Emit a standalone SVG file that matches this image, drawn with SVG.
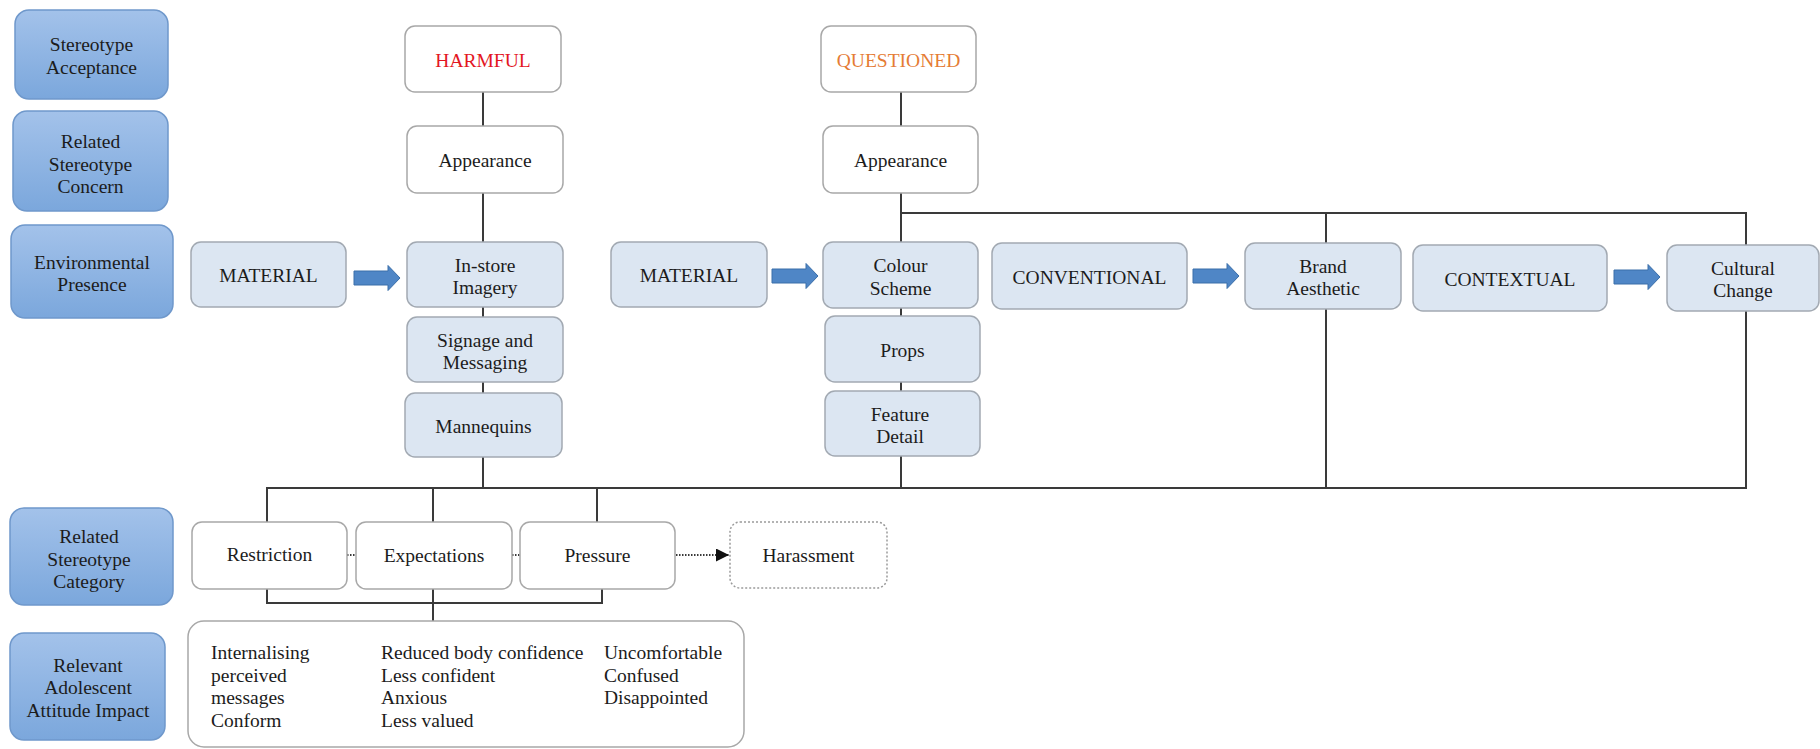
<svg xmlns="http://www.w3.org/2000/svg" xmlns:xlink="http://www.w3.org/1999/xlink" width="1820" height="749" viewBox="0 0 1820 749">
<style>
text{font-family:"Liberation Serif","Times New Roman",serif;font-size:19.5px;fill:#1c1c1c;text-anchor:middle}
.lbl rect{fill:url(#lg);stroke:#6f98cb;stroke-width:1.5}
.lb rect{fill:#dce6f2;stroke:#a2a9b2;stroke-width:1.5}
.wh rect{fill:#ffffff;stroke:#a8a8a8;stroke-width:1.5}
.con path{fill:none;stroke:#3a3a3a;stroke-width:2}
.dot{fill:none;stroke:#555;stroke-width:1.5;stroke-dasharray:1.5 1.5}
.blk{fill:#4f86c6;stroke:#3b6fa9;stroke-width:1}
.lt{text-anchor:start}
</style>
<defs>
<linearGradient id="lg" x1="0" y1="0" x2="0" y2="1">
<stop offset="0" stop-color="#a3c2ea"/>
<stop offset="1" stop-color="#7ba7dc"/>
</linearGradient>
<path id="blkarrow" d="M0,-7 H34 V-12.5 L46,0 L34,12.5 V7 H0 Z"/>
<marker id="tri" viewBox="0 0 10 10" refX="10" refY="5" markerWidth="13" markerHeight="13" markerUnits="userSpaceOnUse" orient="auto">
<path d="M0,0 L10,5 L0,10 Z" fill="#111"/>
</marker>
</defs>
<rect width="1820" height="749" fill="#ffffff"/>

<g id="connectors" class="con">
<path d="M483,92 V126 M483,193 V242 M483,307 V317 M483,382 V393 M483,457 V488"/>
<path d="M901,92 V126 M901,193 V242 M901,308 V316 M901,382 V391 M901,456 V488"/>
<path d="M901,213 H1746 V245 M1326,213 V243"/>
<path d="M267,522 V488 H1746 V311 M1326,309 V488 M433,488 V522 M597,488 V522"/>
<path d="M267,589 V603 H602 V589 M433,589 V621"/>
<path class="dot" d="M347,555 H356 M512,555 H520"/>
<path class="dot" d="M676,555 H729" marker-end="url(#tri)"/>
<use xlink:href="#blkarrow" href="#blkarrow" class="blk" x="354" y="278"/>
<use xlink:href="#blkarrow" href="#blkarrow" class="blk" x="772" y="276"/>
<use xlink:href="#blkarrow" href="#blkarrow" class="blk" x="1193" y="276"/>
<use xlink:href="#blkarrow" href="#blkarrow" class="blk" x="1614" y="277"/>
</g>

<g id="label-acceptance" class="lbl"><rect x="15" y="10" width="153" height="89" rx="14"/>
<text x="91.5"><tspan x="91.5" y="51">Stereotype</tspan><tspan x="91.5" y="73.5">Acceptance</tspan></text></g>
<g id="label-concern" class="lbl"><rect x="13" y="111" width="155" height="100" rx="14"/>
<text><tspan x="90.5" y="148">Related</tspan><tspan x="90.5" y="170.5">Stereotype</tspan><tspan x="90.5" y="193">Concern</tspan></text></g>
<g id="label-presence" class="lbl"><rect x="11" y="225" width="162" height="93" rx="14"/>
<text><tspan x="92" y="268.5">Environmental</tspan><tspan x="92" y="291">Presence</tspan></text></g>
<g id="label-category" class="lbl"><rect x="10" y="508" width="163" height="97" rx="14"/>
<text><tspan x="89" y="543">Related</tspan><tspan x="89" y="565.5">Stereotype</tspan><tspan x="89" y="588">Category</tspan></text></g>
<g id="label-impact" class="lbl"><rect x="10" y="633" width="155" height="107" rx="14"/>
<text><tspan x="88" y="671.5">Relevant</tspan><tspan x="88" y="694">Adolescent</tspan><tspan x="88" y="716.5">Attitude Impact</tspan></text></g>

<g id="harmful" class="wh"><rect x="405" y="26" width="156" height="66" rx="10"/><text x="483" y="66.5" style="fill:#e3161f">HARMFUL</text></g>
<g id="appearance-h" class="wh"><rect x="407" y="126" width="156" height="67" rx="10"/><text x="485" y="166.5">Appearance</text></g>
<g id="material-1" class="lb"><rect x="191" y="242" width="155" height="65" rx="10"/><text x="268.5" y="282">MATERIAL</text></g>
<g id="instore" class="lb"><rect x="407" y="242" width="156" height="65" rx="10"/><text><tspan x="485" y="271.5">In-store</tspan><tspan x="485" y="294">Imagery</tspan></text></g>
<g id="signage" class="lb"><rect x="407" y="317" width="156" height="65" rx="10"/><text><tspan x="485" y="346.5">Signage and</tspan><tspan x="485" y="369">Messaging</tspan></text></g>
<g id="mannequins" class="lb"><rect x="405" y="393" width="157" height="64" rx="10"/><text x="483.5" y="432.5">Mannequins</text></g>

<g id="questioned" class="wh"><rect x="821" y="26" width="155" height="66" rx="10"/><text x="898.5" y="66.5" style="fill:#e57c35">QUESTIONED</text></g>
<g id="appearance-q" class="wh"><rect x="823" y="126" width="155" height="67" rx="10"/><text x="900.5" y="166.5">Appearance</text></g>
<g id="material-2" class="lb"><rect x="611" y="242" width="156" height="65" rx="10"/><text x="689" y="282">MATERIAL</text></g>
<g id="colour" class="lb"><rect x="823" y="242" width="155" height="66" rx="10"/><text><tspan x="900.5" y="272">Colour</tspan><tspan x="900.5" y="294.5">Scheme</tspan></text></g>
<g id="props" class="lb"><rect x="825" y="316" width="155" height="66" rx="10"/><text x="902.5" y="356.5">Props</text></g>
<g id="feature" class="lb"><rect x="825" y="391" width="155" height="65" rx="10"/><text><tspan x="900" y="420.5">Feature</tspan><tspan x="900" y="443">Detail</tspan></text></g>
<g id="conventional" class="lb"><rect x="992" y="243" width="195" height="66" rx="10"/><text x="1089.5" y="283.5">CONVENTIONAL</text></g>
<g id="brand" class="lb"><rect x="1245" y="243" width="156" height="66" rx="10"/><text><tspan x="1323" y="272.5">Brand</tspan><tspan x="1323" y="295">Aesthetic</tspan></text></g>
<g id="contextual" class="lb"><rect x="1413" y="245" width="194" height="66" rx="10"/><text x="1510" y="285.5">CONTEXTUAL</text></g>
<g id="cultural" class="lb"><rect x="1667" y="245" width="152" height="66" rx="10"/><text><tspan x="1743" y="274.5">Cultural</tspan><tspan x="1743" y="297">Change</tspan></text></g>

<g id="restriction" class="wh"><rect x="192" y="522" width="155" height="67" rx="10"/><text x="269.5" y="561">Restriction</text></g>
<g id="expectations" class="wh"><rect x="356" y="522" width="156" height="67" rx="10"/><text x="434" y="562">Expectations</text></g>
<g id="pressure" class="wh"><rect x="520" y="522" width="155" height="67" rx="10"/><text x="597.5" y="562">Pressure</text></g>
<g id="harassment" class="wh"><rect x="730" y="522" width="157" height="66" rx="10" style="stroke:#9a9a9a;stroke-dasharray:2 2"/><text x="808.5" y="562">Harassment</text></g>

<g id="impact" class="wh"><rect x="188" y="621" width="556" height="126" rx="16"/>
<text class="lt"><tspan x="211" y="659">Internalising</tspan><tspan x="211" y="681.7">perceived</tspan><tspan x="211" y="704.3">messages</tspan><tspan x="211" y="727">Conform</tspan></text>
<text class="lt"><tspan x="381" y="659">Reduced body confidence</tspan><tspan x="381" y="681.7">Less confident</tspan><tspan x="381" y="704.3">Anxious</tspan><tspan x="381" y="727">Less valued</tspan></text>
<text class="lt"><tspan x="604" y="659">Uncomfortable</tspan><tspan x="604" y="681.7">Confused</tspan><tspan x="604" y="704.3">Disappointed</tspan></text>
</g>
</svg>
